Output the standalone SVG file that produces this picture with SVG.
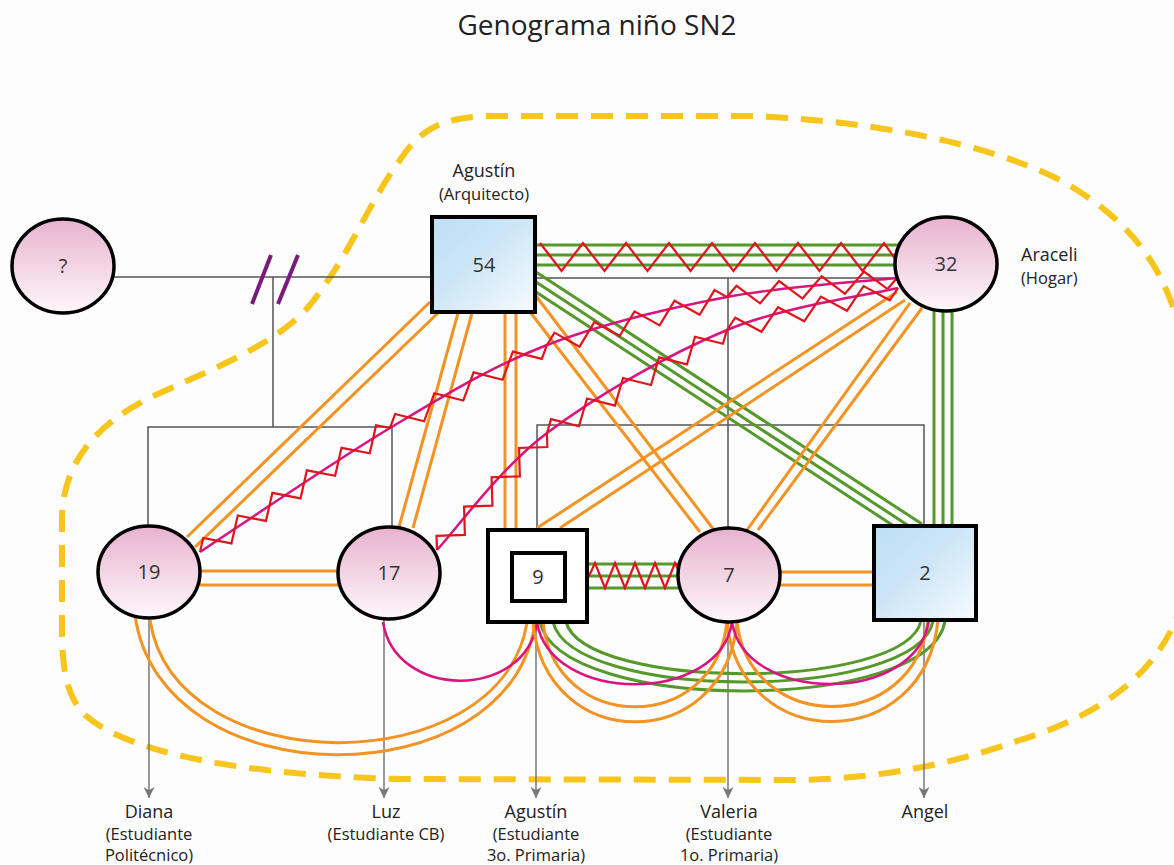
<svg xmlns="http://www.w3.org/2000/svg" width="1174" height="865" viewBox="0 0 1174 865">
<defs>
<linearGradient id="pink" x1="0" y1="0" x2="0" y2="1"><stop offset="0" stop-color="#e8b2ce"/><stop offset="1" stop-color="#fdf7fa"/></linearGradient>
<linearGradient id="blue" x1="0" y1="0" x2="1" y2="1"><stop offset="0" stop-color="#bddff4"/><stop offset="0.45" stop-color="#cde6f7"/><stop offset="1" stop-color="#f7fbfe"/></linearGradient>
<marker id="arr" viewBox="0 0 10 10" refX="10" refY="5" markerWidth="11" markerHeight="11" markerUnits="userSpaceOnUse" orient="auto"><path d="M0,0 L10,5 L0,10 L3,5 Z" fill="#777"/></marker>
<style>
.t{font-family:"Open Sans","Liberation Sans",sans-serif;fill:#222;text-anchor:middle}
.num{font-size:20px;fill:#333}
.nm{font-size:18px}
.sb{font-size:16.5px}
.gen{stroke:#555;stroke-width:1.5;fill:none}
.desc{stroke:#777;stroke-width:1.5;fill:none}
.or{stroke:#f39323;stroke-width:3;fill:none}
.gr{stroke:#55992a;stroke-width:3;fill:none}
.mg{stroke:#d9137f;stroke-width:2.5;fill:none}
.zz{stroke:#e0141d;stroke-width:2.2;fill:none;stroke-linejoin:miter}
.cir{fill:url(#pink);stroke:#000;stroke-width:3.5}
.sq{fill:url(#blue);stroke:#000;stroke-width:4}
.home{stroke:#f7c51b;stroke-width:6;fill:none;stroke-dasharray:22 13}
</style>
</defs>
<rect width="1174" height="865" fill="#fdfdfd"/>
<text class="t" x="597" y="35" font-size="28">Genograma niño SN2</text>

<g id="hogar">
<path class="home" d="M486,116 L750,116 C860,120 980,140 1060,180 C1150,230 1190,300 1188,420 L1188,560 C1186,650 1120,710 1020,740 C950,765 880,778 800,780 L400,779 C250,775 130,755 85,715 C60,690 62,650 62,600 L62,520 C62,460 100,420 160,393 C230,362 280,340 310,305 C350,255 370,200 400,160 C420,130 440,118 486,116 Z"/>
</g>

<g id="connectors">
<!-- genealogical lines -->
<path class="gen" d="M112,277 H432"/>
<path class="gen" d="M273,277 V427 M148,527 V427 H392 V528"/>
<path class="gen" d="M535,278 H896"/>
<path class="gen" d="M728,278 V528 M537,530 V425 H924 V527"/>
<path d="M252,304 L271,255 M278,304 L298,255" stroke="#7a1a7c" stroke-width="4" fill="none"/>
<!-- descendants -->
<path class="desc" d="M149,618 V798" marker-end="url(#arr)"/>
<path class="desc" d="M384,620 V798" marker-end="url(#arr)"/>
<path class="desc" d="M536,623 V798" marker-end="url(#arr)"/>
<path class="desc" d="M728,622 V798" marker-end="url(#arr)"/>
<path class="desc" d="M924,621 V798" marker-end="url(#arr)"/>

<!-- 54 - 32 -->
<path class="gr" d="M536,245 H900 M536,255 H900 M536,265 H900"/>
<polyline class="zz" points="540,243 561.5,271 583,243 604.5,271 626,243 647.5,271 669,243 690.5,271 712,243 733.5,271 755,243 776.5,271 798,243 819.5,271 841,243 862.5,271 884,243 896,260"/>
<!-- 54 - 2 green -->
<path class="gr" d="M536,272 L922,524 M536,282 L912,528 M536,292 L900,530"/>
<!-- 32 - 2 green -->
<path class="gr" d="M934,310 V527 M943,312 V527 M952,310 V527"/>

<!-- orange from 54 -->
<path class="or" d="M430,302 L187,537 M438,313 L195,547"/>
<path class="or" d="M458,313 L399,527 M472,313 L413,528"/>
<path class="or" d="M505,313 V530 M516,313 V530"/>
<path class="or" d="M530,312 L700,532 M536,296 L714,530"/>
<!-- orange from 32 -->
<path class="or" d="M897,292 L537,528 M905,300 L560,528"/>
<path class="or" d="M910,303 L747,530 M922,308 L758,530"/>

<!-- magenta conflicts from 32 -->
<path class="mg" d="M200,552 C231.7,531.3 332.2,462.5 390,428 C447.8,393.5 490.8,366.8 547,345 C603.2,323.2 668.7,308.2 727,297 C785.3,285.8 868.7,281.2 897,278"/>
<g class="zz">
<polyline transform="translate(200,552) rotate(-33.1)" points="0,0 10.3,-10 31,10 51.6,-10 72.2,10 92.9,-10 113.5,10 134.1,-10 154.8,10 175.4,-10 196.1,10 216.7,-10 227,0"/>
<polyline transform="translate(390,428) rotate(-27.9)" points="0,0 11.1,-10 33.3,10 55.5,-10 77.7,10 99.9,-10 122.1,10 144.3,-10 166.5,10 177.6,0"/>
<polyline transform="translate(547,345) rotate(-14.9)" points="0,0 10.4,-10 31,10 51.8,-10 72.5,10 93.2,-10 113.9,10 134.6,-10 155.3,10 176,-10 186.3,0"/>
<polyline transform="translate(727,297) rotate(-6.4)" points="0,0 10.7,-10 32.1,10 53.5,-10 74.9,10 96.3,-10 117.6,10 139,-10 160.4,10 171.1,0"/>
</g>
<path class="mg" d="M437,550 C455.3,530.5 498.7,469.7 547,433 C595.3,396.3 668.5,354.2 727,330 C785.5,305.8 869.5,295 898,288"/>
<g class="zz">
<polyline transform="translate(437,550) rotate(-46.8)" points="0,0 10,-10 30.1,10 50.2,-10 70.3,10 90.4,-10 110.4,10 130.5,-10 150.6,10 160.6,0"/>
<polyline transform="translate(547,433) rotate(-29.8)" points="0,0 10.4,-10 31.1,10 51.9,-10 72.6,10 93.3,-10 114.1,10 134.8,-10 155.6,10 176.3,-10 197,10 207.4,0"/>
<polyline transform="translate(727,330) rotate(-13.8)" points="0,0 11,-10 33,10 55,-10 77.1,10 99.1,-10 121.1,10 143.1,-10 165.1,10 176.1,0"/>
</g>

<!-- siblings horizontal -->
<path class="or" d="M200,571 H338 M200,585 H338"/>
<path class="or" d="M780,572 H873 M780,585 H873"/>
<path class="gr" d="M587,564 H680 M587,576 H680 M587,588 H680"/>
<polyline class="zz" points="589,576 595,563 605,588 615,563 625,588 635,563 645,588 655,563 665,588 675,563 681,575"/>

<!-- bottom arcs -->
<path class="or" d="M150,620 C175,783 500,783 527,623 M135,615 C160,800 510,800 535,623"/>
<path class="mg" d="M383,622 C395,700 525,700 537,623"/>
<path class="gr" d="M566,622 C585,691 905,691 921,621 M553,622 C572,702 918,702 933,621 M540,622 C560,714 930,714 945,621"/>
<path class="or" d="M543,622 C555,735 715,735 727,622 M533,622 C545,755 725,755 737,622"/>
<path class="or" d="M737,622 C750,735 915,735 928,620 M727,622 C740,755 925,755 938,620"/>
<path class="mg" d="M537,622 C550,705 720,705 732,622"/>
<path class="mg" d="M732,622 C745,705 917,705 929,620"/>
</g>

<g id="n_unknown"><ellipse class="cir" cx="63" cy="266" rx="51" ry="47"/><text class="t num" x="63" y="273">?</text></g>
<g id="n_agustin_padre"><rect class="sq" x="432" y="217" width="103" height="95"/><text class="t num" x="484" y="272">54</text>
<text class="t nm" x="484" y="177">Agustín</text><text class="t sb" x="484" y="200">(Arquitecto)</text></g>
<g id="n_araceli"><ellipse class="cir" cx="946" cy="264" rx="51" ry="47"/><text class="t num" x="946" y="271">32</text>
<text class="t nm" x="1021" y="261" style="text-anchor:start">Araceli</text><text class="t sb" x="1021" y="284" style="text-anchor:start">(Hogar)</text></g>
<g id="n_diana"><ellipse class="cir" cx="149" cy="572" rx="51" ry="46"/><text class="t num" x="149" y="579">19</text>
<text class="t nm" x="149" y="818">Diana</text><text class="t sb" x="149" y="840">(Estudiante</text><text class="t sb" x="149" y="861">Politécnico)</text></g>
<g id="n_luz"><ellipse class="cir" cx="389" cy="573" rx="51" ry="46"/><text class="t num" x="389" y="580">17</text>
<text class="t nm" x="386" y="818">Luz</text><text class="t sb" x="386" y="840">(Estudiante CB)</text></g>
<g id="n_agustin_hijo"><rect x="488" y="530" width="99" height="92" fill="#fff" stroke="#000" stroke-width="4"/><rect x="512" y="553" width="53" height="48" fill="#fff" stroke="#000" stroke-width="4"/><text class="t num" x="538" y="584">9</text>
<text class="t nm" x="536" y="818">Agustín</text><text class="t sb" x="536" y="840">(Estudiante</text><text class="t sb" x="536" y="861">3o. Primaria)</text></g>
<g id="n_valeria"><ellipse class="cir" cx="729" cy="575" rx="51" ry="47"/><text class="t num" x="729" y="582">7</text>
<text class="t nm" x="729" y="818">Valeria</text><text class="t sb" x="729" y="840">(Estudiante</text><text class="t sb" x="729" y="861">1o. Primaria)</text></g>
<g id="n_angel"><rect class="sq" x="874" y="526" width="102" height="94"/><text class="t num" x="925" y="580">2</text>
<text class="t nm" x="925" y="818">Angel</text></g>
</svg>
